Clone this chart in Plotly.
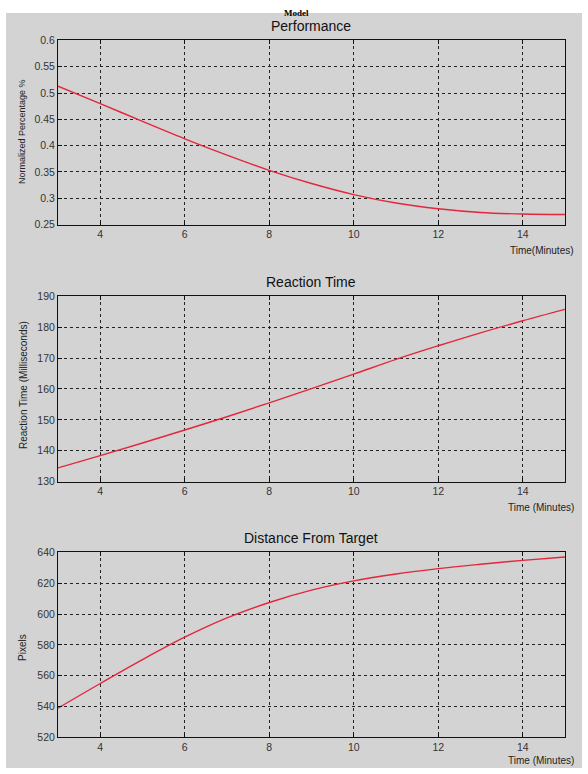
import plotly.graph_objects as go

# ---- data ----
time_min = [3, 4, 5, 6, 7, 8, 9, 10, 11, 12, 13, 14, 15]
performance = [0.513, 0.480, 0.446, 0.413, 0.382, 0.353, 0.328, 0.307, 0.291, 0.280, 0.273, 0.270, 0.269]
reaction_ms = [134.4, 138.4, 142.5, 146.7, 151.0, 155.5, 160.1, 164.8, 169.6, 174.0, 178.2, 182.1, 185.8]
distance_px = [539, 555, 570.5, 585, 597.5, 607.5, 615.5, 621.5, 626, 629.5, 632.3, 634.8, 637]

x_ticks = [4, 6, 8, 10, 12, 14]
perf_ticks = [0.25, 0.3, 0.35, 0.4, 0.45, 0.5, 0.55, 0.6]
perf_labels = ["0.25", "0.3", "0.35", "0.4", "0.45", "0.5", "0.55", "0.6"]
react_ticks = [130, 140, 150, 160, 170, 180, 190]
dist_ticks = [520, 540, 560, 580, 600, 620, 640]

W, H = 588, 774
LINE = "rgb(228,38,62)"
FONT = "Liberation Sans, Arial, sans-serif"

def px_x(p):
    return p / W

def px_y(p):
    return 1 - p / H

fig = go.Figure()
fig.add_trace(go.Scatter(x=time_min, y=performance, mode="lines", line=dict(color=LINE, width=1.4, shape="spline"),
                         xaxis="x", yaxis="y", showlegend=False))
fig.add_trace(go.Scatter(x=time_min, y=reaction_ms, mode="lines", line=dict(color=LINE, width=1.4, shape="spline"),
                         xaxis="x2", yaxis="y2", showlegend=False))
fig.add_trace(go.Scatter(x=time_min, y=distance_px, mode="lines", line=dict(color=LINE, width=1.4, shape="spline"),
                         xaxis="x3", yaxis="y3", showlegend=False))

xdom = [px_x(58), px_x(565)]
panels = [
    (35, 222, [0.25, 0.6], perf_ticks, perf_labels),
    (295, 483, [130, 190], react_ticks, [str(v) for v in react_ticks]),
    (555, 743, [520, 640], dist_ticks, [str(v) for v in dist_ticks]),
]

common_axis = dict(showline=True, linecolor="#111", linewidth=1, mirror="ticks", ticks="inside",
                   ticklen=4, tickcolor="#111", showgrid=True, gridcolor="#222", griddash="dot",
                   gridwidth=1, zeroline=False, tickfont=dict(family=FONT, size=10.5, color="#333"))

layout = dict(width=W, height=H, margin=dict(l=0, r=0, t=0, b=0),
              paper_bgcolor="white", plot_bgcolor="white", showlegend=False)

for i, (top, bot, yr, yt, yl) in enumerate(panels):
    suf = "" if i == 0 else str(i + 1)
    layout["xaxis" + suf] = dict(domain=xdom, range=[3, 15], tickvals=x_ticks,
                                 anchor="y" + suf, **common_axis)
    layout["yaxis" + suf] = dict(domain=[px_y(bot), px_y(top)], range=yr, tickvals=yt, ticktext=yl,
                                 anchor="x" + suf, **common_axis)

fig.update_layout(**layout)

# gray figure background
fig.add_shape(type="rect", xref="paper", yref="paper", x0=px_x(6), x1=px_x(582), y0=0, y1=px_y(7),
              fillcolor="#d3d3d3", line=dict(width=0), layer="below")

annots = [
    dict(text="<b>Model</b>", x=px_x(297), y=px_y(0), xanchor="center", yanchor="top",
         font=dict(family="Liberation Serif, Times New Roman, serif", size=9, color="black")),
    dict(text="Performance", x=px_x(311), y=px_y(20.5), xanchor="center", yanchor="middle",
         font=dict(family=FONT, size=14, color="#111")),
    dict(text="Reaction Time", x=px_x(311), y=px_y(280), xanchor="center", yanchor="middle",
         font=dict(family=FONT, size=14, color="#111")),
    dict(text="Distance From Target", x=px_x(311), y=px_y(540), xanchor="center", yanchor="middle",
         font=dict(family=FONT, size=14, color="#111")),
    dict(text="Time(Minutes)", x=px_x(576), y=px_y(248), xanchor="right", yanchor="middle",
         font=dict(family=FONT, size=10, color="#222")),
    dict(text="Time (Minutes)", x=px_x(576), y=px_y(509), xanchor="right", yanchor="middle",
         font=dict(family=FONT, size=10, color="#222")),
    dict(text="Time (Minutes)", x=px_x(576), y=px_y(766), xanchor="right", yanchor="middle",
         font=dict(family=FONT, size=10, color="#222")),
    dict(text="Normalized Percentage %", x=px_x(22), y=px_y(128), xanchor="center", yanchor="middle",
         textangle=-90, font=dict(family=FONT, size=9, color="#222")),
    dict(text="Reaction Time (Milliseconds)", x=px_x(23), y=px_y(385), xanchor="center", yanchor="middle",
         textangle=-90, font=dict(family=FONT, size=10, color="#222")),
    dict(text="Pixels", x=px_x(23), y=px_y(652), xanchor="center", yanchor="middle",
         textangle=-90, font=dict(family=FONT, size=10, color="#222")),
]
for a in annots:
    a.update(xref="paper", yref="paper", showarrow=False)
    fig.add_annotation(**a)

fig.write_html("out.html", config={"displayModeBar": False},
               post_script="document.body.style.margin='0';document.body.style.overflow='hidden';")
